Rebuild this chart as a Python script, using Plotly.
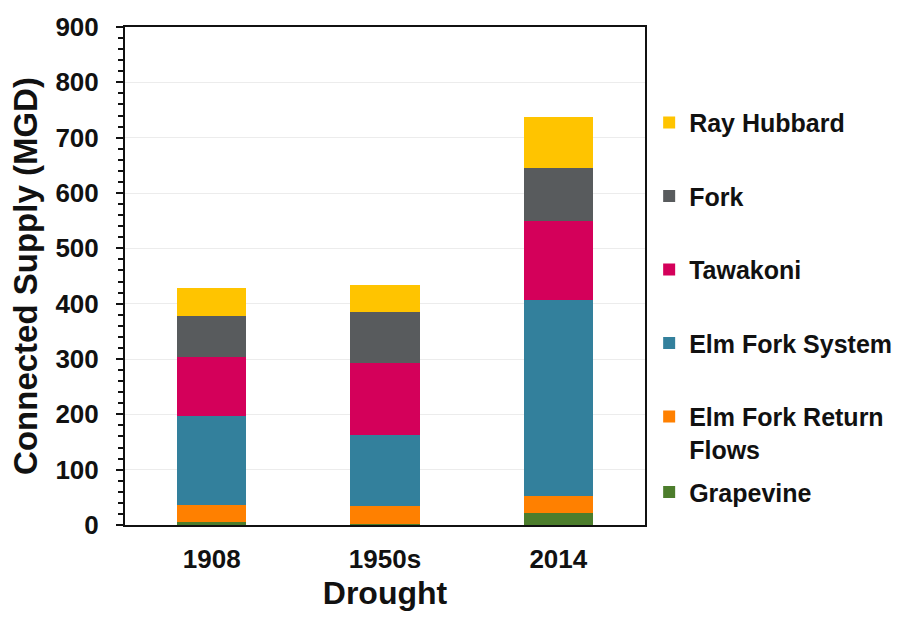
import plotly.graph_objects as go

# Drought-of-record scenarios
droughts = ["1908", "1950s", "2014"]

# Connected supply by source (MGD), bottom of stack first
grapevine = [6, 2, 21]
elm_fork_return_flows = [31, 33, 31]
elm_fork_system = [160, 127, 354]
tawakoni = [107, 131, 144]
fork = [74, 92, 96]
ray_hubbard = [50, 48, 91]

y_ticks = [0, 100, 200, 300, 400, 500, 600, 700, 800, 900]

# (legend label, values, colour, legend id, legend rank)
series = [
    ("Grapevine", grapevine, "#4c7d2c", "legend2", 6),
    ("Elm Fork Return<br>Flows", elm_fork_return_flows, "#ff8000", "legend", 5),
    ("Elm Fork System", elm_fork_system, "#33809c", "legend", 4),
    ("Tawakoni", tawakoni, "#d4005a", "legend", 3),
    ("Fork", fork, "#585b5d", "legend", 2),
    ("Ray Hubbard", ray_hubbard, "#ffc400", "legend", 1),
]

FONT = "Liberation Sans, Arial, sans-serif"

fig = go.Figure()
for name, vals, color, leg, rank in series:
    fig.add_trace(go.Bar(
        x=droughts, y=vals, name=name,
        marker=dict(color=color, line=dict(width=0)),
        legend=leg, legendgroup=name, legendrank=rank,
    ))

legend_font = dict(family=FONT, size=25, color="#111111", weight=700)

fig.update_layout(
    barmode="stack",
    bargap=0.6,
    width=916, height=624,
    margin=dict(l=125, r=271, t=21, b=99),
    paper_bgcolor="white",
    plot_bgcolor="white",
    font=dict(family=FONT, color="#111111"),
    legend=dict(
        x=1.008, xanchor="left", y=0.854, yanchor="top",
        traceorder="grouped", tracegroupgap=38,
        font=legend_font, valign="top", itemwidth=30,
        bgcolor="rgba(0,0,0,0)",
    ),
    legend2=dict(
        x=1.008, xanchor="left", y=0.112, yanchor="top",
        font=legend_font, valign="top", itemwidth=30,
        bgcolor="rgba(0,0,0,0)",
    ),
    xaxis=dict(
        title=dict(text="Drought", font=dict(family=FONT, size=32, weight=700), standoff=8),
        tickfont=dict(family=FONT, size=26, weight=700),
        showline=True, linecolor="#111111", linewidth=2, mirror=True,
        ticks="", ticklabelstandoff=10,
        showgrid=False,
    ),
    yaxis=dict(
        title=dict(text="Connected Supply (MGD)", font=dict(family=FONT, size=33, weight=700), standoff=8),
        tickfont=dict(family=FONT, size=26, weight=700),
        range=[0, 900], tickvals=y_ticks,
        showline=True, linecolor="#111111", linewidth=2, mirror=True,
        ticks="outside", ticklen=7, tickwidth=2, tickcolor="#111111",
        ticklabelstandoff=12,
        minor=dict(dtick=20, ticks="outside", ticklen=5, tickwidth=2, tickcolor="#111111", showgrid=False),
        showgrid=True, gridcolor="#ececec", gridwidth=1,
        zeroline=False,
    ),
)

fig.write_html("out.html")
